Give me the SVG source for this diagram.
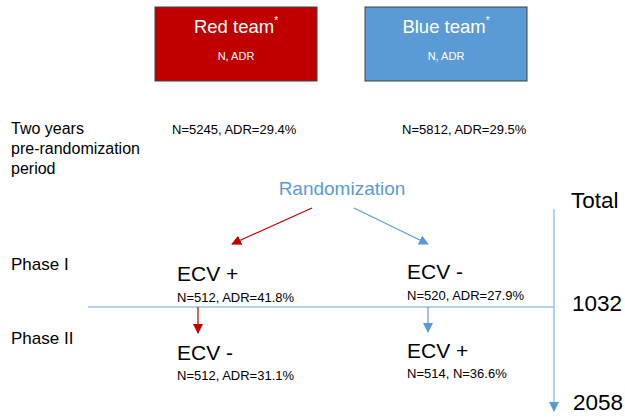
<svg xmlns="http://www.w3.org/2000/svg" width="625" height="420" viewBox="0 0 625 420">
<defs>
<marker id="ar" viewBox="0 0 10 10" refX="9" refY="5" markerWidth="10" markerHeight="10" markerUnits="userSpaceOnUse" orient="auto"><path d="M0,0 L10,5 L0,10 z" fill="#C00000"/></marker>
<marker id="ab" viewBox="0 0 10 10" refX="9" refY="5" markerWidth="10" markerHeight="10" markerUnits="userSpaceOnUse" orient="auto"><path d="M0,0 L10,5 L0,10 z" fill="#5B9BD5"/></marker>
</defs>
<style>
text{font-family:"Liberation Sans",Arial,sans-serif;fill:#000}
.w{fill:#fff}
.t{font-size:18.5px}
.s{font-size:11px}
.m{font-size:13px}
.l{font-size:16px}
.p{font-size:17px}
.e{font-size:21px}
.big{font-size:22.5px}
.rl{stroke:#C00000;stroke-width:1.2;fill:none}
.bl{stroke:#9DC3E6;stroke-width:1.5;fill:none}
.bl2{stroke:#5B9BD5;stroke-width:1.2;fill:none}
</style>
<rect width="625" height="420" fill="#fff"/>
<g id="red-team">
<rect x="155" y="7" width="162" height="74" fill="#C00000" stroke="#404040" stroke-width="1"/>
<text class="w t" x="236" y="33" text-anchor="middle">Red team<tspan font-size="10" dy="-9">*</tspan></text>
<text class="w s" x="236" y="60" text-anchor="middle">N, ADR</text>
</g>
<g id="blue-team">
<rect x="365" y="7" width="162" height="74" fill="#5B9BD5" stroke="#404040" stroke-width="1"/>
<text class="w t" x="446" y="33" text-anchor="middle">Blue team<tspan font-size="10" dy="-9">*</tspan></text>
<text class="w s" x="446" y="60" text-anchor="middle">N, ADR</text>
</g>
<g id="pre-period">
<text class="l" x="11" y="134">Two years</text>
<text class="l" x="11" y="154">pre-randomization</text>
<text class="l" x="11" y="174">period</text>
</g>
<g id="pre-red"><text class="m" x="172" y="134">N=5245, ADR=29.4%</text></g>
<g id="pre-blue"><text class="m" x="402" y="134">N=5812, ADR=29.5%</text></g>
<g id="randomization"><text x="342" y="195" text-anchor="middle" font-size="19" style="fill:#5B9BD5">Randomization</text></g>
<g id="total"><text class="big" x="571" y="208">Total</text></g>
<g id="phase1"><text class="p" x="11" y="270">Phase I</text></g>
<g id="phase2"><text class="p" x="11" y="344">Phase II</text></g>
<g id="p1-red">
<text class="e" x="177" y="281">ECV +</text>
<text class="m" x="177" y="302">N=512, ADR=41.8%</text>
</g>
<g id="p1-blue">
<text class="e" x="407" y="279">ECV -</text>
<text class="m" x="407" y="300">N=520, ADR=27.9%</text>
</g>
<g id="p2-red">
<text class="e" x="177" y="360">ECV -</text>
<text class="m" x="177" y="380">N=512, ADR=31.1%</text>
</g>
<g id="p2-blue">
<text class="e" x="407" y="358">ECV +</text>
<text class="m" x="407" y="378">N=514, N=36.6%</text>
</g>
<g id="n1032"><text class="big" x="572" y="311">1032</text></g>
<g id="n2058"><text class="big" x="573" y="410">2058</text></g>
<g id="connectors">
<line class="rl" x1="312" y1="208" x2="232" y2="244" marker-end="url(#ar)"/>
<line class="bl2" x1="354" y1="208" x2="428" y2="244" marker-end="url(#ab)"/>
<line class="bl" x1="88" y1="307" x2="554" y2="307"/>
<line class="bl" x1="554" y1="209" x2="554" y2="411" marker-end="url(#ab)"/>
<line class="rl" x1="198" y1="307" x2="198" y2="333" marker-end="url(#ar)"/>
<line class="bl2" x1="428" y1="307" x2="428" y2="332" marker-end="url(#ab)"/>
</g>
</svg>
